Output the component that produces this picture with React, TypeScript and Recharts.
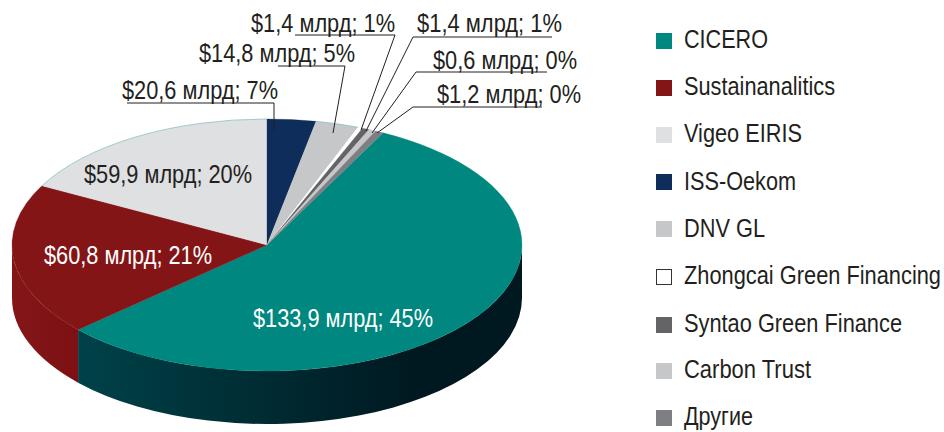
import React from "react";
import { PieChart, Pie, Legend } from "recharts";

// Data
const providers = ["CICERO", "Sustainanalitics", "Vigeo EIRIS", "ISS-Oekom", "DNV GL", "Zhongcai Green Financing", "Syntao Green Finance", "Carbon Trust", "Другие"];
const sliceLabels = ["$133,9 млрд; 45%", "$60,8 млрд; 21%", "$59,9 млрд; 20%", "$20,6 млрд; 7%", "$14,8 млрд; 5%", "$1,4 млрд; 1%", "$1,4 млрд; 1%", "$0,6 млрд; 0%", "$1,2 млрд; 0%"];
// Drawn size of each slice on the picture, in degrees of the disc
const drawnShares = [200.7, 70.2, 62, 11.1, 9.8, 1.1, 1.6, 1.6, 1.9];
const colors = ["#00877f", "#841517", "#dfe0e2", "#0f2d5b", "#c6c7c9", "#ffffff", "#646466", "#c6c7c9", "#7e7f83"];

const tableData = providers.map((name, i) => ({ name, value: drawnShares[i], fill: colors[i], label: sliceLabels[i] }));

// Layout
const W = 944, H = 432, CX = 267, CY = 245, RX = 255, RY = 126, DEPTH = 53, START = 90 - 27.1;
const FONT = '"Liberation Sans", Arial, sans-serif';
const FS = 26;
const SQUEEZE = 0.83;
const INK = "#231f20";
const RIM = "#8fc4c0";
const RIMMED = [2, 4];
type L = { x: number; y: number; w: number; color: string; line?: number[][] };
const labelLayout: L[] = [
  { x: 253, y: 327, w: 180, color: "#fff" },
  { x: 44, y: 264, w: 168, color: "#fff" },
  { x: 84, y: 183, w: 168, color: INK },
  { x: 122, y: 99, w: 156, color: INK, line: [[127, 103], [274, 103], [274, 131]] },
  { x: 199, y: 62, w: 156, color: INK, line: [[278, 66], [345, 66], [333, 133]] },
  { x: 251, y: 32, w: 144, color: INK, line: [[295, 35], [395, 35], [361, 130]] },
  { x: 417, y: 32, w: 145, color: INK, line: [[552, 37], [413, 37], [366, 131]] },
  { x: 433, y: 69, w: 144, color: INK, line: [[547, 72], [416, 72], [372, 133]] },
  { x: 437, y: 103, w: 144, color: INK, line: [[542, 107], [413, 107], [377, 133]] },
];
const legendRows = [
  { box: 41, base: 48, w: 84 }, { box: 88, base: 95, w: 151 }, { box: 135, base: 142, w: 118 },
  { box: 182, base: 190, w: 112 }, { box: 229, base: 237, w: 81 }, { box: 277, base: 284, w: 257 },
  { box: 325, base: 332, w: 218 }, { box: 371, base: 378, w: 127 }, { box: 418, base: 425, w: 69 },
];

const rad = (d: number) => (d * Math.PI) / 180;
const pt = (cx: number, cy: number, a: number) => [cx + RX * Math.cos(rad(a)), cy - RY * Math.sin(rad(a))];

const Squeezed = ({ x, y, w, color, children }: any) => (
  <text
    transform={`translate(${x},${y}) scale(${SQUEEZE},1)`}
    fill={color}
    fontFamily={FONT}
    fontSize={FS}
    textLength={w / SQUEEZE}
    lengthAdjust="spacingAndGlyphs"
  >
    {children}
  </text>
);

const TopSlice = (p: any) => {
  const [x1, y1] = pt(p.cx, p.cy, p.startAngle);
  const [x2, y2] = pt(p.cx, p.cy, p.endAngle);
  const large = Math.abs(p.startAngle - p.endAngle) > 180 ? 1 : 0;
  const arc = `A${RX},${RY} 0 ${large} 1 ${x2},${y2}`;
  return (
    <g>
      <path
        d={`M${p.cx},${p.cy}L${x1},${y1}${arc}Z`}
        fill={p.fill}
        stroke={p.fill === "#ffffff" ? "none" : p.fill}
        strokeWidth={0.3}
      />
      {RIMMED.includes(p.index) && <path d={`M${x1},${y1}${arc}`} fill="none" stroke={RIM} strokeWidth={0.8} />}
    </g>
  );
};

const SideSlice = (p: any) => {
  const a1 = Math.min(p.startAngle, 0);
  const a2 = Math.max(p.endAngle, -180);
  if (a1 <= a2) return <g />;
  const [x1, y1] = pt(p.cx, p.cy, a1);
  const [x2, y2] = pt(p.cx, p.cy, a2);
  const fill = p.index === 0 ? "url(#sideTeal)" : p.index === 1 ? "url(#sideRed)" : p.fill;
  return (
    <path
      d={`M${x1},${y1}A${RX},${RY} 0 0 1 ${x2},${y2}L${x2},${y2 + DEPTH}A${RX},${RY} 0 0 0 ${x1},${y1 + DEPTH}Z`}
      fill={fill}
    />
  );
};

const SliceLabel = (p: any) => {
  const l = labelLayout[p.index];
  return (
    <g>
      {l.line && <polyline points={l.line.map((c) => c.join(",")).join(" ")} fill="none" stroke={INK} strokeWidth={1} />}
      <Squeezed x={l.x} y={l.y} w={l.w} color={l.color}>
        {sliceLabels[p.index]}
      </Squeezed>
    </g>
  );
};

const LegendBlock = () => (
  <svg width={W} height={H} style={{ position: "absolute", left: 0, top: 0 }}>
    {providers.map((name, i) => {
      const r = legendRows[i];
      return (
        <g key={name}>
          <rect
            x={i === 5 ? 656.5 : 656}
            y={r.box - (i === 5 ? 7.5 : 8)}
            width={i === 5 ? 15 : 16}
            height={i === 5 ? 15 : 16}
            fill={colors[i]}
            stroke={i === 5 ? "#333" : "none"}
            strokeWidth={1}
          />
          <Squeezed x={684} y={r.base} w={r.w} color={INK}>
            {name}
          </Squeezed>
        </g>
      );
    })}
  </svg>
);

export default function App() {
  return (
    <div style={{ position: "absolute", left: 0, top: 0, width: W, height: H }}>
      <PieChart width={W} height={H} margin={{ top: 0, right: 0, bottom: 0, left: 0 }}>
        <defs>
          <linearGradient id="sideTeal" gradientUnits="userSpaceOnUse" x1={77} y1={0} x2={420} y2={0}>
            <stop offset="0" stopColor="#004249" />
            <stop offset="1" stopColor="#001820" />
          </linearGradient>
          <linearGradient id="sideRed" gradientUnits="userSpaceOnUse" x1={12} y1={0} x2={77} y2={0}>
            <stop offset="0" stopColor="#84161a" />
            <stop offset="1" stopColor="#7c1012" />
          </linearGradient>
        </defs>
        <Pie
          data={tableData}
          dataKey="value"
          nameKey="name"
          cx={CX}
          cy={CY}
          outerRadius={RX}
          startAngle={START}
          endAngle={START - 360}
          stroke="none"
          legendType="none"
          shape={SideSlice}
          isAnimationActive={false}
        />
        <Pie
          data={tableData}
          dataKey="value"
          nameKey="name"
          cx={CX}
          cy={CY}
          outerRadius={RX}
          startAngle={START}
          endAngle={START - 360}
          stroke="none"
          shape={TopSlice}
          label={SliceLabel}
          labelLine={false}
          isAnimationActive={false}
        />
        <Legend content={LegendBlock} wrapperStyle={{ left: 0, top: 0, width: W, height: H }} />
      </PieChart>
    </div>
  );
}
